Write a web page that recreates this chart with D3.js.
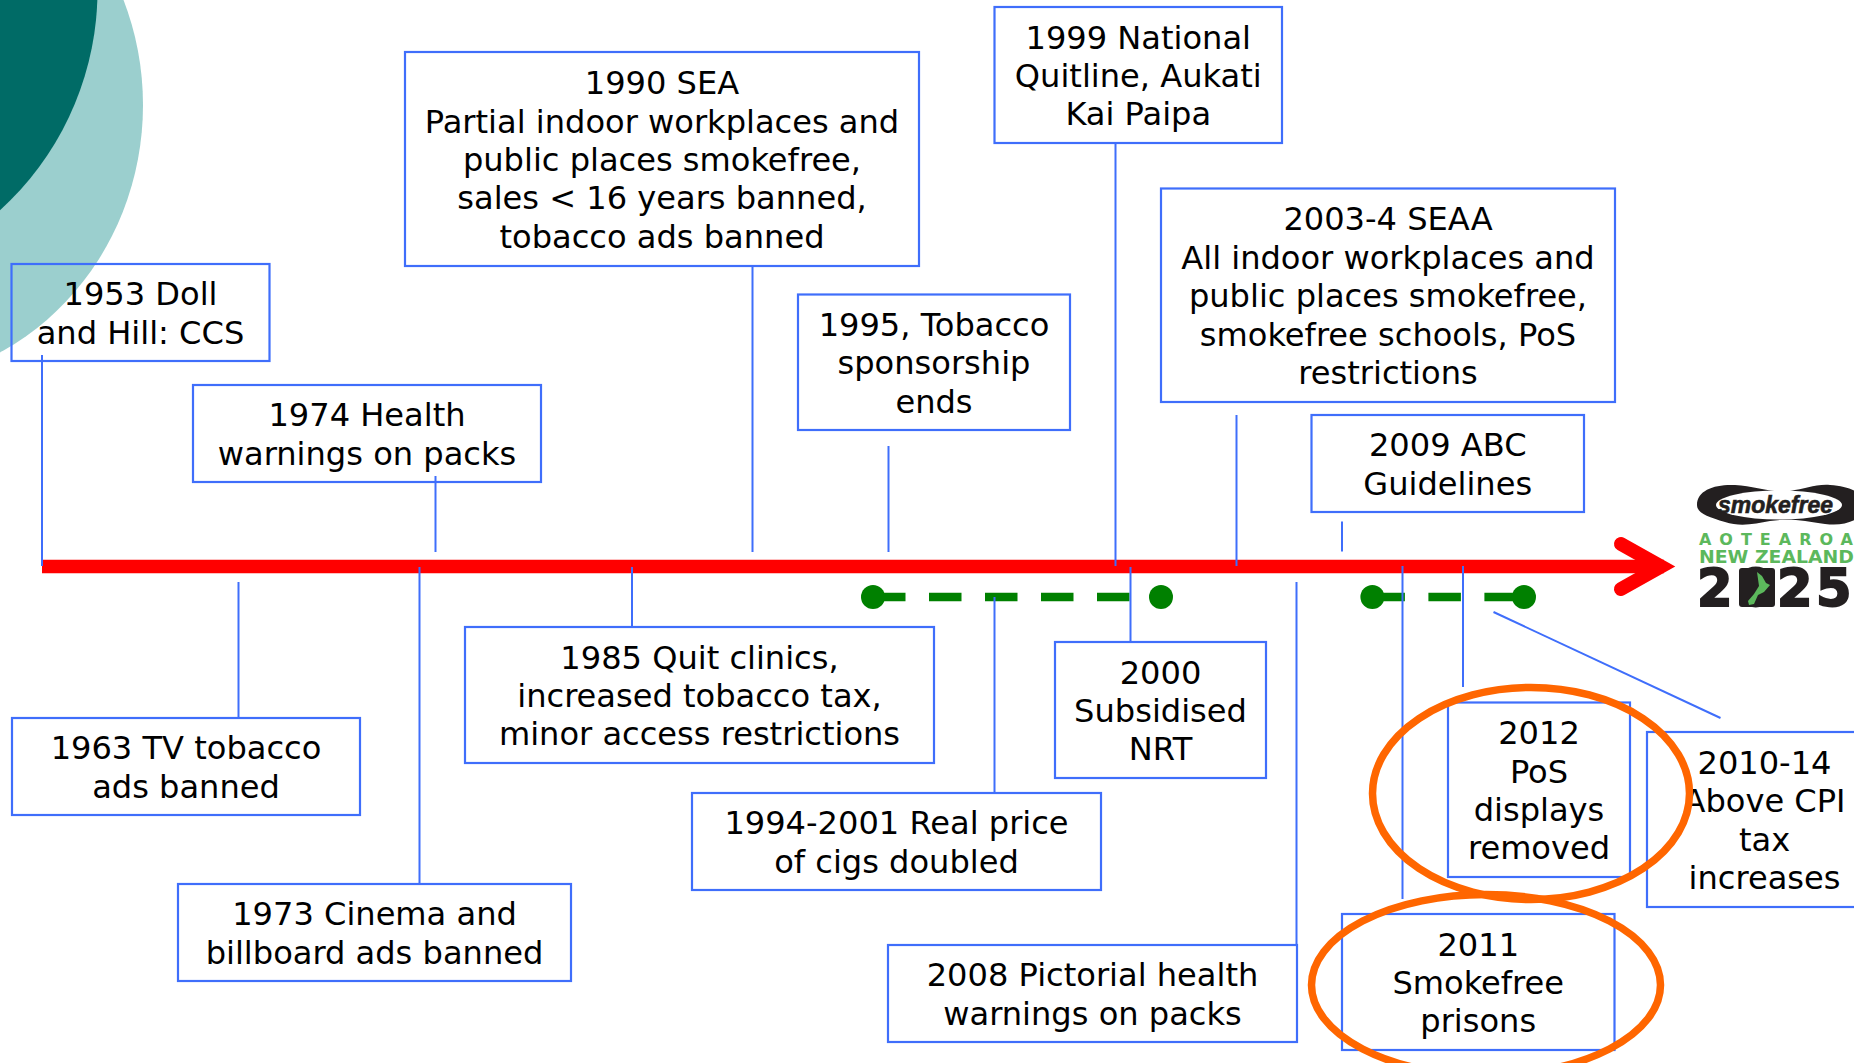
<!DOCTYPE html>
<html><head><meta charset="utf-8">
<script src="https://cdn.jsdelivr.net/npm/d3@7/dist/d3.min.js"></script>
<style>html,body{margin:0;padding:0;background:#fff;overflow:hidden}svg{display:block}</style>
</head><body><svg id="c" width="1854" height="1063"></svg>
<script>
// ---- data ----
const eventKeys = ["1953","1963","1973","1974","1985","1990","1994","1995","1999","2000","2003","2008","2009","2010","2011","2012"];
const eventYears = [1953,1963,1973,1974,1985,1990,1994,1995,1999,2000,2003,2008,2009,2010,2011,2012];
const eventLabels = [
 ["1953 Doll","and Hill: CCS"],
 ["1963 TV tobacco","ads banned"],
 ["1973 Cinema and","billboard ads banned"],
 ["1974 Health","warnings on packs"],
 ["1985 Quit clinics,","increased tobacco tax,","minor access restrictions"],
 ["1990 SEA","Partial indoor workplaces and","public places smokefree,","sales < 16 years banned,","tobacco ads banned"],
 ["1994-2001 Real price","of cigs doubled"],
 ["1995, Tobacco","sponsorship","ends"],
 ["1999 National","Quitline, Aukati","Kai Paipa"],
 ["2000","Subsidised","NRT"],
 ["2003-4 SEAA","All indoor workplaces and","public places smokefree,","smokefree schools, PoS","restrictions"],
 ["2008 Pictorial health","warnings on packs"],
 ["2009 ABC","Guidelines"],
 ["2010-14","Above CPI","tax","increases"],
 ["2011","Smokefree","prisons"],
 ["2012","PoS","displays","removed"]
];
const priceYears = [1994,2001];
const taxYears = [2010,2014];
const highlighted = ["2011","2012"];
const logoLines = ["smokefree","AOTEAROA","NEW ZEALAND","2025"];

// ---- layout (kept apart from the data) ----
const boxes = {
 "1953":[11.5,269.5,264,361],"1963":[12,360,718,815],"1973":[178,571,884,981],"1974":[193,541,385,482],
 "1985":[465,934,627,763],"1990":[405,919,52,266],"1994":[692,1101,793,890],"1995":[798,1070,294.5,430],
 "1999":[994.5,1282,7,143],"2000":[1055,1266,642,778],"2003":[1161,1615,188.5,402],"2008":[888,1297,945,1042],
 "2009":[1311.5,1584,415,512],"2010":[1647,1882,732,907],"2011":[1342,1614.5,914,1050],"2012":[1448,1630,702.5,877]
};
const stemX = {"1953":42,"1963":238.5,"1973":419.5,"1974":435.5,"1985":632,"1990":752.5,"1994":994.5,"1995":888.5,"1999":1115.5,"2000":1130.5,"2003":1236.5,"2008":1296.5,"2009":1342,"2011":1402.5,"2012":1463};
const stems = {"1953":[355,566],"1963":[582,718],"1973":[567,884],"1974":[476,552],"1985":[567,627],"1990":[266,552],"1994":[597,793],"1995":[446,552],"1999":[143,566],"2000":[567,642],"2003":[415,566],"2008":[582,945],"2009":[521.5,551.5],"2011":[566,899],"2012":[566,687]};
const axisY = 566.5, bandY = 597;
const BLUE = "#3f6efb", RED = "#ff0000", GREEN = "#008000", ORANGE = "#ff6600", LOGO_GREEN = "#5cb85c", LOGO_DARK = "#231f20";

const stemKeys = Object.keys(stemX);
const x = d3.scaleLinear().domain(stemKeys.map(k => +k)).range(stemKeys.map(k => stemX[k]));
const priceX = d3.scaleLinear().domain(priceYears).range([873,1161]);
const taxX = d3.scaleLinear().domain(taxYears).range([1372.4,1524]);

const svg = d3.select("#c");

// background discs
svg.append("ellipse").attr("cx",-120).attr("cy",105).attr("rx",263).attr("ry",278).attr("fill","#9bcfce");
svg.append("circle").attr("cx",-200).attr("cy",-10).attr("r",297.5).attr("fill","#006b66");

// timeline
svg.append("line").attr("x1",x(1953)).attr("x2",1664).attr("y1",axisY).attr("y2",axisY)
  .attr("stroke",RED).attr("stroke-width",13.5);
svg.append("path").attr("d","M1621,544 L1661,566.5 L1621,589").attr("fill","none")
  .attr("stroke",RED).attr("stroke-width",14).attr("stroke-linecap","round").attr("stroke-linejoin","miter").attr("stroke-miterlimit",6);

// dashed ranges
[[priceX,priceYears],[taxX,taxYears]].forEach(([s,ys])=>{
  svg.append("line").attr("x1",s(ys[0])).attr("x2",s(ys[1])).attr("y1",bandY).attr("y2",bandY)
    .attr("stroke",GREEN).attr("stroke-width",8.5).attr("stroke-dasharray","32.5 23.5");
  svg.selectAll(null).data(ys).join("circle").attr("cx",d=>s(d)).attr("cy",bandY).attr("r",12).attr("fill",GREEN);
});

// stems
svg.selectAll("line.stem").data(stemKeys).join("line").attr("class","stem")
  .attr("x1",k=>x(+k)).attr("x2",k=>x(+k)).attr("y1",k=>stems[k][0]).attr("y2",k=>stems[k][1])
  .attr("stroke",BLUE).attr("stroke-width",2);
svg.append("line").attr("x1",1493.5).attr("y1",612).attr("x2",1720.5).attr("y2",718).attr("stroke",BLUE).attr("stroke-width",2);

// boxes and text
const ev = svg.selectAll("g.ev").data(eventKeys.map((k,i)=>({k,label:eventLabels[i],year:eventYears[i]}))).join("g").attr("class","ev");
ev.append("rect").attr("x",d=>boxes[d.k][0]).attr("y",d=>boxes[d.k][2])
  .attr("width",d=>boxes[d.k][1]-boxes[d.k][0]).attr("height",d=>boxes[d.k][3]-boxes[d.k][2])
  .attr("fill","none").attr("stroke",BLUE).attr("stroke-width",2.2);
const LH = 38.4;
ev.each(function(d){
  const b = boxes[d.k], cx=(b[0]+b[1])/2, cy=(b[2]+b[3])/2, n=d.label.length;
  d3.select(this).selectAll("text").data(d.label).join("text")
    .attr("x",cx).attr("y",(l,i)=>cy-(n-1)*LH/2+12+i*LH)
    .attr("text-anchor","middle").attr("font-family","'DejaVu Sans',Verdana,sans-serif").attr("font-size",32.1).attr("fill","#000")
    .text(l=>l);
});

// highlight ellipses
svg.selectAll("ellipse.hl").data(highlighted).join("ellipse").attr("class","hl")
  .attr("cx",k=>k==="2012"?1531:1486).attr("cy",k=>k==="2012"?793.5:985)
  .attr("rx",k=>k==="2012"?158.5:174.5).attr("ry",k=>k==="2012"?106:90.5)
  .attr("fill","none").attr("stroke",ORANGE).attr("stroke-width",7.5);

// logo
const logo = svg.append("g");
logo.append("path").attr("fill",LOGO_DARK)
  .attr("d","M1697,505 C1697,490 1715,484 1735,485 C1755,486 1770,493 1790,491 C1805,489 1815,484 1830,485 C1845,486 1856,490 1860,495 L1860,517 C1850,523 1840,526 1825,524 C1805,521 1790,518 1770,521 C1755,524 1740,527 1725,522 C1708,517 1697,513 1697,505 Z");
logo.append("ellipse").attr("cx",1779).attr("cy",505).attr("rx",63).attr("ry",14.5).attr("fill","#fff");
logo.append("text").attr("x",1718).attr("y",513).attr("textLength",115).attr("lengthAdjust","spacingAndGlyphs")
  .attr("font-family","'Liberation Sans',Arial,sans-serif").attr("font-weight",700).attr("font-style","italic").attr("font-size",23).attr("fill",LOGO_DARK).attr("stroke",LOGO_DARK).attr("stroke-width",0.6).text(logoLines[0]);
logo.append("text").attr("x",1699).attr("y",544.5).attr("textLength",154).attr("lengthAdjust","spacing")
  .attr("font-family","'DejaVu Sans',sans-serif").attr("font-weight",700).attr("font-size",16).attr("fill",LOGO_GREEN).text(logoLines[1]);
logo.append("text").attr("x",1699).attr("y",563).attr("textLength",155).attr("lengthAdjust","spacingAndGlyphs")
  .attr("font-family","'DejaVu Sans',sans-serif").attr("font-weight",700).attr("font-size",17).attr("fill",LOGO_GREEN).text(logoLines[2]);
logo.append("text").attr("x","1697 1738 1777 1816").attr("y",606)
  .attr("font-family","'DejaVu Sans',sans-serif").attr("font-weight",700).attr("font-size",51).attr("fill",LOGO_DARK)
  .attr("stroke",LOGO_DARK).attr("stroke-width",2).text(logoLines[3]);
logo.append("rect").attr("x",1739).attr("y",568).attr("width",36).attr("height",39).attr("rx",3).attr("fill",LOGO_DARK);
logo.append("path").attr("fill",LOGO_GREEN)
  .attr("d","M1757,572 L1762,576 L1766,583 L1770,585 L1764,592 L1758,595 L1754,604 L1749,605 L1748,601 L1754,594 L1759,586 Z");
</script></body></html>
